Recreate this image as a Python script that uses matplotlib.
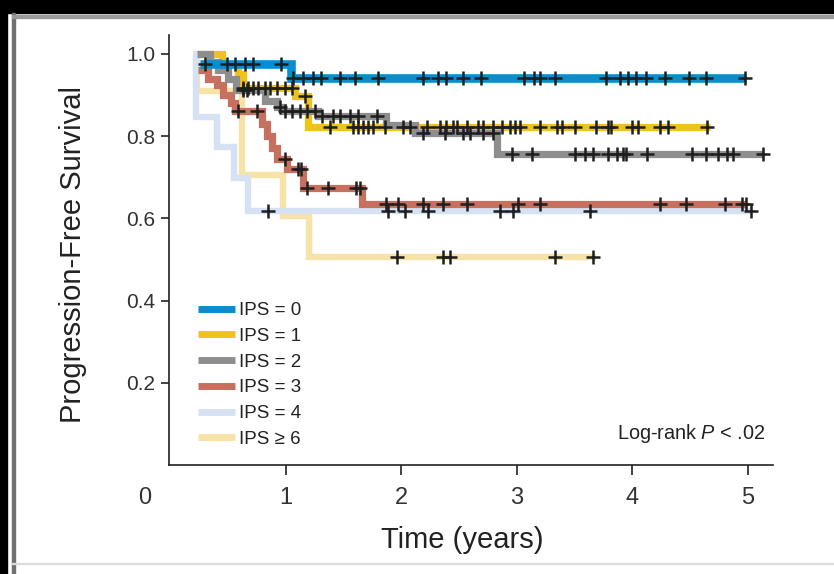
import numpy as np
import matplotlib
matplotlib.use("Agg")
import matplotlib.pyplot as plt
from matplotlib.patches import Rectangle

plt.rcParams['font.family'] = ['Liberation Sans', 'DejaVu Sans']
plt.rcParams['mathtext.fontset'] = 'custom'
plt.rcParams['mathtext.rm'] = 'Liberation Sans'
plt.rcParams['mathtext.it'] = 'Liberation Sans:italic'

# ---- data (Kaplan-Meier step curves) ----
labels = ["IPS = 0", "IPS = 1", "IPS = 2", "IPS = 3", "IPS = 4", "IPS \u2265 6"]
colors = ["#0a8dcd", "#f0c31c", "#8e8e8e", "#c7705f", "#d6e2f3", "#f7e2a8"]

ips0_times = [0.25, 1.045]
ips0_surv = [0.975, 0.942]
ips0_end = 4.99
ips0_censor = [0.30, 0.49, 0.56, 0.645, 0.71, 0.96, 1.06, 1.15, 1.23, 1.30, 1.47, 1.60, 1.80,
               2.19, 2.32, 2.39, 2.53, 2.69, 3.06, 3.15, 3.20, 3.33, 3.77, 3.89, 3.96, 4.03,
               4.12, 4.28, 4.49, 4.64, 4.98]

ips1_times = [0.25, 0.445, 0.585, 0.63, 1.08, 1.19]
ips1_surv = [1.0, 0.976, 0.95, 0.917, 0.898, 0.823]
ips1_end = 4.67
ips1_censor = [0.63, 0.67, 0.71, 0.76, 0.82, 0.86, 0.92, 0.99, 1.05, 1.16, 1.38, 1.58, 1.62,
               1.67, 1.71, 1.75, 1.86, 2.01, 2.07, 2.22, 2.33, 2.39, 2.45, 2.48, 2.57, 2.66,
               2.71, 2.79, 2.87, 2.94, 2.98, 3.03, 3.20, 3.35, 3.39, 3.50, 3.69, 3.79, 3.82,
               4.00, 4.05, 4.24, 4.31, 4.65]

ips2_times = [0.23, 0.34, 0.41, 0.50, 0.57, 0.82, 0.92, 0.97, 1.28, 1.87, 2.12, 2.83]
ips2_surv = [1.0, 0.98, 0.96, 0.94, 0.912, 0.885, 0.87, 0.86, 0.848, 0.826, 0.807, 0.757]
ips2_end = 5.13
ips2_censor = [0.63, 0.66, 0.95, 0.99, 1.05, 1.12, 1.18, 1.25, 1.31, 1.41, 1.47, 1.55, 1.62,
               1.79, 2.19, 2.38, 2.53, 2.59, 2.71, 2.79, 2.96, 3.13, 3.50, 3.59, 3.66, 3.79,
               3.87, 3.92, 3.95, 4.13, 4.52, 4.64, 4.74, 4.82, 4.87, 5.13]

ips3_times = [0.24, 0.32, 0.40, 0.45, 0.52, 0.56, 0.79, 0.835, 0.88, 0.92, 1.01, 1.15, 1.66]
ips3_surv = [0.96, 0.94, 0.925, 0.90, 0.88, 0.86, 0.83, 0.80, 0.77, 0.745, 0.72, 0.674, 0.634]
ips3_end = 4.99
ips3_censor = [0.585, 0.75, 0.99, 1.10, 1.13, 1.18, 1.36, 1.61, 1.64, 1.87, 1.97, 2.19, 2.36,
               2.57, 3.01, 3.20, 4.24, 4.47, 4.80, 4.95, 4.99]

ips4_times = [0.19, 0.22, 0.40, 0.55, 0.67]
ips4_surv = [1.0, 0.847, 0.774, 0.698, 0.619]
ips4_end = 5.04
ips4_censor = [0.845, 1.88, 2.03, 2.23, 2.85, 2.97, 3.63, 5.03]

ips6_times = [0.21, 0.225, 0.62, 0.97, 1.20]
ips6_surv = [1.0, 0.909, 0.706, 0.606, 0.506]
ips6_end = 3.69
ips6_censor = [1.96, 2.36, 2.42, 3.33, 3.66]

xtick_vals = [1, 2, 3, 4, 5]
ytick_vals = [0.2, 0.4, 0.6, 0.8, 1.0]
ytick_labels = ["0.2", "0.4", "0.6", "0.8", "1.0"]

series = [
    (ips0_times, ips0_surv, ips0_end, ips0_censor),
    (ips1_times, ips1_surv, ips1_end, ips1_censor),
    (ips2_times, ips2_surv, ips2_end, ips2_censor),
    (ips3_times, ips3_surv, ips3_end, ips3_censor),
    (ips4_times, ips4_surv, ips4_end, ips4_censor),
    (ips6_times, ips6_surv, ips6_end, ips6_censor),
]
lws = [6.2, 5.2, 5.2, 5.2, 4.6, 4.6]
zorders = [8, 6, 7, 5, 4, 3]

W, H = 834, 574
fig = plt.figure(figsize=(W / 100, H / 100), dpi=100)
fig.patch.set_facecolor("white")

# scan-like border
fig.add_artist(Rectangle((0, 1 - 13 / H), 1, 13 / H, transform=fig.transFigure, color="black", zorder=0))
fig.add_artist(Rectangle((0, 0), 7 / W, 1, transform=fig.transFigure, color="black", zorder=0))
fig.add_artist(Rectangle((12 / W, 0), 3 / W, 1 - 13 / H, transform=fig.transFigure, color="#707070", zorder=0))
fig.add_artist(Rectangle((12 / W, 1 - 18 / H), 1, 3 / H, transform=fig.transFigure, color="#9a9a9a", zorder=0))
fig.add_artist(Rectangle((12 / W, (H - 564) / H), 1, 1.5 / H, transform=fig.transFigure, color="#dcdcdc", zorder=0))

ax = fig.add_axes([169 / W, (H - 465) / H, 604 / W, 430 / H])
ax.set_xlim(-0.015, 5.22)
ax.set_ylim(0, 1.046)

handles = []
for (t, s, end, cens), c, lw, z, lab in zip(series, colors, lws, zorders, labels):
    x = list(t) + [end]
    y = list(s) + [s[-1]]
    h, = ax.step(x, y, where="post", color=c, lw=lw, solid_joinstyle="miter",
                 solid_capstyle="butt", zorder=z, label=lab)
    handles.append(h)
    tt = np.array(t)
    idx = np.searchsorted(tt, np.array(cens), side="right") - 1
    cy = np.array(s)[np.clip(idx, 0, len(s) - 1)]
    ax.plot(cens, cy, linestyle="none", marker="+", markersize=9.5, mew=1.8,
            color="#1e1e1e", zorder=10)

for sp in ["top", "right"]:
    ax.spines[sp].set_visible(False)
for sp in ["left", "bottom"]:
    ax.spines[sp].set_linewidth(1.2)
    ax.spines[sp].set_color("#222222")

ax.set_xticks(xtick_vals)
ax.set_xticklabels([str(v) for v in xtick_vals])
ax.set_yticks(ytick_vals)
ax.set_yticklabels(ytick_labels)
ax.tick_params(axis="y", direction="out", length=6, width=1.2, pad=4, labelsize=15,
               colors="#222222", labelcolor="#333333")
ax.tick_params(axis="x", direction="out", length=7, width=1.2, pad=9, labelsize=17,
               colors="#222222", labelcolor="#333333")
ax.annotate("0", xy=(-0.23, 0), xycoords=("data", "axes fraction"),
            xytext=(0, -(7 + 9)), textcoords="offset points", ha="center", va="top",
            fontsize=17, color="#333333", annotation_clip=False)

ax.set_ylabel("Progression-Free Survival", fontsize=21, color="#222222", va="center")
ax.yaxis.set_label_coords(-0.159, 0.49)
ax.set_xlabel("Time (years)", fontsize=21, color="#222222", va="center")
ax.xaxis.set_label_coords(0.485, -0.174)

ax.text(0.987, 0.074, r"Log-rank $\mathit{P}$ < .02", transform=ax.transAxes,
        ha="right", va="center", fontsize=14.3, color="#222222")

leg = ax.legend(handles=handles, loc="upper left", bbox_to_anchor=(0.048, 0.379),
                frameon=False, fontsize=13.5, handlelength=2.0, handletextpad=0.2,
                labelspacing=0.46, borderpad=0, borderaxespad=0)
for line in leg.get_lines():
    line.set_linewidth(5)
for txt in leg.get_texts():
    txt.set_color("#222222")

fig.savefig("out.png", dpi=100, facecolor=fig.get_facecolor())
